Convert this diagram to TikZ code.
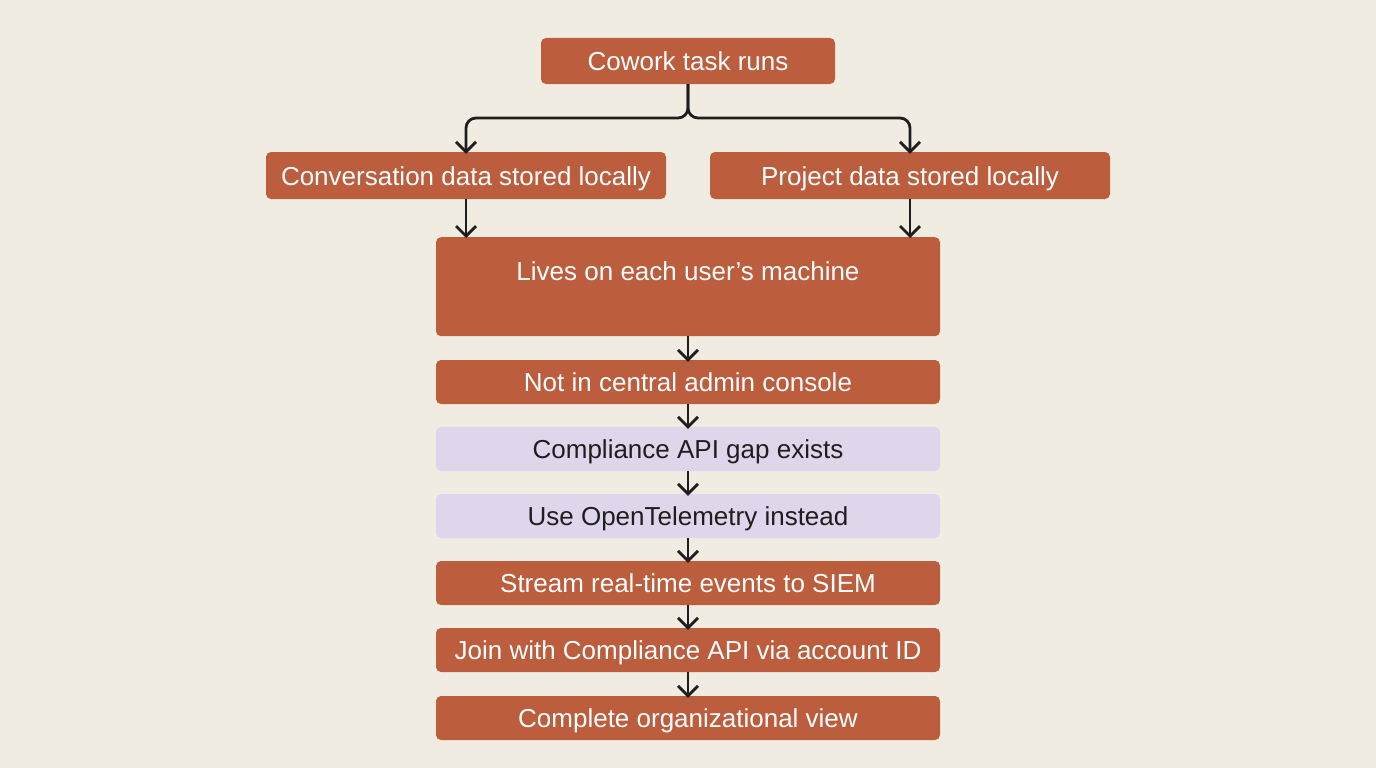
\documentclass[tikz,border=0pt]{standalone}
\usepackage{fontspec}
\setmainfont{Liberation Sans}
\usetikzlibrary{arrows.meta,positioning}
\definecolor{bg}{HTML}{F1ECE1}
\definecolor{rust}{HTML}{BC5D3D}
\definecolor{lav}{HTML}{E0D6EC}
\definecolor{ink}{HTML}{1E1E1E}
\tikzset{
  box/.style={rectangle, rounded corners=5pt, fill=rust, text=white, inner sep=0pt,
    font=\fontsize{26}{30}\selectfont, text height=19pt, text depth=0pt},
  lbox/.style={box, fill=lav, text=ink},
  conn/.style={draw=ink, line width=2.8pt, -{Straight Barb[length=10pt,width=20pt,line width=2.8pt]}},
}
\begin{document}
\begin{tikzpicture}[x=1pt,y=-1pt]
\fill[bg] (0,0) rectangle (1376,768);
\useasboundingbox (0,0) rectangle (1376,768);
\node[box, minimum width=294pt, minimum height=46pt] (cw) at (688,61) {Cowork task runs};
\node[box, minimum width=400pt, minimum height=47pt] (conv) at (466,175.5) {Conversation data stored locally};
\node[box, minimum width=400pt, minimum height=47pt] (proj) at (910,175.5) {Project data stored locally};
\node[box, minimum width=504pt, text height=43.5pt, text depth=55.5pt, anchor=north] (lives) at (688,237) {Lives on each user’s machine};
\node[box, minimum width=504pt, minimum height=44pt] (notc) at (688,382) {Not in central admin console};
\node[lbox, minimum width=504pt, minimum height=44pt] (gap) at (688,449) {Compliance API gap exists};
\node[lbox, minimum width=504pt, minimum height=44pt] (otel) at (688,516) {Use OpenTelemetry instead};
\node[box, minimum width=504pt, minimum height=44pt] (siem) at (688,583) {Stream real-time events to SIEM};
\node[box, minimum width=504pt, minimum height=44pt] (join) at (688,650) {Join with Compliance API via account ID};
\node[box, minimum width=504pt, minimum height=44pt] (org) at (688,718) {Complete organizational view};
\coordinate (fork) at (688,118);
\draw[conn, rounded corners=10pt] (cw.south) -- (fork) -| ([yshift=-2pt]conv.north);
\draw[conn, rounded corners=10pt] (cw.south) -- (fork) -| ([yshift=-2pt]proj.north);
\draw[conn] (conv.south) -- ([yshift=-1pt]lives.north -| conv.south);
\draw[conn] (proj.south) -- ([yshift=-1pt]lives.north -| proj.south);
\draw[conn] (lives.south) -- ([yshift=-2pt]notc.north);
\draw[conn] (notc.south) -- ([yshift=-2pt]gap.north);
\draw[conn] (gap.south) -- ([yshift=-2pt]otel.north);
\draw[conn] (otel.south) -- ([yshift=-2pt]siem.north);
\draw[conn] (siem.south) -- ([yshift=-2pt]join.north);
\draw[conn] (join.south) -- ([yshift=-2pt]org.north);
\end{tikzpicture}
\end{document}
